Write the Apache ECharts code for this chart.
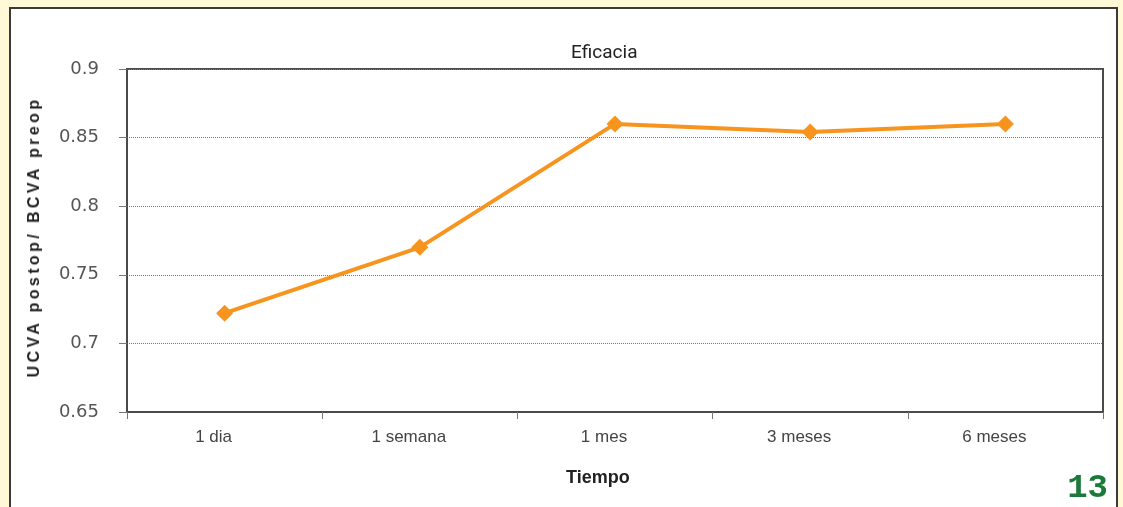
<!DOCTYPE html>
<html>
<head>
<meta charset="utf-8">
<script src="https://cdn.jsdelivr.net/npm/echarts@6/dist/echarts.min.js"></script>
<style>
  html, body { margin: 0; padding: 0; background: #FFF9D8; }
  #frame {
    position: absolute; left: 9px; top: 7px; width: 1109px; height: 520px;
    background: #ffffff; border: 2px solid #3a3a3a; box-sizing: border-box;
  }
  #chart { position: absolute; left: 0; top: 0; width: 1123px; height: 507px; }
  #ytitle {
    position: absolute; left: 34px; top: 237px;
    transform: translate(-50%, -50%) rotate(-90deg);
    white-space: nowrap;
    font: bold 16px "Liberation Sans", Arial, sans-serif;
    letter-spacing: 3.4px; color: #222;
  }
</style>
</head>
<body>
<div id="frame"></div>
<div id="chart"></div>
<div id="ytitle">UCVA postop/ BCVA preop</div>
<script>
// Efficacy index over follow-up time
const categories = ['1 dia', '1 semana', '1 mes', '3 meses', '6 meses'];
const eficacia = [0.722, 0.770, 0.860, 0.854, 0.860];
const yTicks = { min: 0.65, max: 0.9, step: 0.05 };

const chart = echarts.init(document.getElementById('chart'));
chart.setOption({
  backgroundColor: 'transparent',
  animation: false,
  textStyle: { fontFamily: 'Liberation Sans, Arial, sans-serif' },
  grid: {
    left: 127, right: 20, top: 69, bottom: 95,
    show: true, borderColor: '#4a4a4a', borderWidth: 2, backgroundColor: 'transparent'
  },
  xAxis: {
    type: 'category',
    data: categories,
    boundaryGap: true,
    axisLine: { show: true, lineStyle: { color: '#4a4a4a', width: 2 } },
    axisTick: { show: true, alignWithLabel: false, length: 7, lineStyle: { color: '#777', width: 1 } },
    axisLabel: { margin: 17, fontSize: 17, color: '#444', padding: [0, 22, 0, 0] },
    splitLine: { show: false }
  },
  yAxis: {
    type: 'value',
    min: yTicks.min, max: yTicks.max, interval: yTicks.step,
    axisLine: { show: true, lineStyle: { color: '#4a4a4a', width: 2 } },
    axisTick: { show: true, length: 8, lineStyle: { color: '#777', width: 1 } },
    axisLabel: {
      margin: 28, fontSize: 18, color: '#555', fontFamily: 'DejaVu Sans, sans-serif',
      formatter: v => String(+v.toFixed(2))
    },
    splitLine: { show: true, lineStyle: { color: '#777', type: 'dotted', width: 1 } }
  },
  series: [{
    type: 'line',
    data: eficacia,
    symbol: 'diamond',
    symbolSize: [17, 17],
    lineStyle: { color: '#F7941D', width: 4 },
    itemStyle: { color: '#F7941D' }
  }],
  graphic: [{
    type: 'text',
    left: 571, top: 44,
    style: {
      text: 'Eficacia', fill: '#222',
      font: '19px Roboto, sans-serif'
    }
  }, {
    type: 'text',
    left: 566, top: 469,
    style: {
      text: 'Tiempo', fill: '#222',
      font: 'bold 18px "Liberation Sans", Arial, sans-serif'
    }
  }, {
    type: 'text',
    right: 15, top: 471,
    style: {
      text: '13', fill: '#1B7A3A',
      font: 'bold 34px "Liberation Mono", monospace'
    }
  }]
});
</script>
</body>
</html>
